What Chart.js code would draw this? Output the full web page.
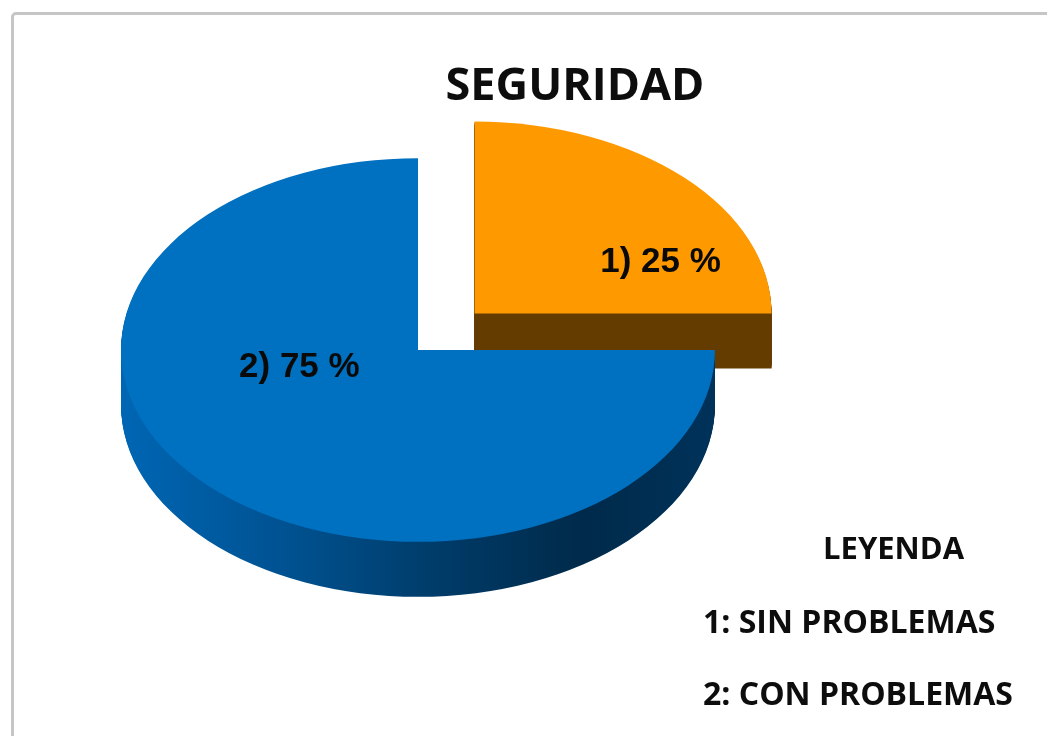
<!DOCTYPE html>
<html><head><meta charset="utf-8">
<script src="https://cdn.jsdelivr.net/npm/chart.js@4.4.1/dist/chart.umd.min.js"></script>
<style>
html,body{margin:0;padding:0;background:#fff;overflow:hidden;}
#wrap{position:relative;width:1047px;height:736px;overflow:hidden;background:#fff;}
#frame{position:absolute;left:11px;top:12px;width:1100px;height:800px;border:3px solid #c6c6c6;border-radius:5px;box-sizing:border-box;}
canvas{position:absolute;left:0;top:0;}
.t{position:absolute;font-family:'Open Sans',sans-serif;font-weight:700;color:#0d0d0d;white-space:nowrap;}
</style></head><body>
<div id="wrap">
<div id="frame"></div>
<canvas id="c" width="1047" height="736"></canvas>
<div class="t" id="title" style="left:575px;top:60px;font-size:45px;line-height:45px;transform:translateX(-50%);"></div>
<div class="t" id="lh" style="left:823px;top:532px;font-size:31px;line-height:31px;"></div>
<div class="t" id="l1" style="left:703px;top:605px;font-size:32px;line-height:32px;"></div>
<div class="t" id="l2" style="left:703px;top:677px;font-size:32px;line-height:32px;"></div>
</div>
<script>
// ---- data ----
const chartTitle = 'SEGURIDAD';
const legendTitle = 'LEYENDA';
const categories = ['SIN PROBLEMAS', 'CON PROBLEMAS'];
const values = [25, 75];
const topColors = ['#ff9900', '#0070c0'];

// ---- style ----
const TILT = 0.646;      // vertical squash of the pie
const DEPTH = 55;        // thickness in px
const EXPLODE = [80, 0]; // explode distance per slice
const SIDE_STOPS = [
  [[0, '#653c00'], [1, '#653c00']],
  [[0, '#0066b4'], [0.3, '#00508e'], [0.55, '#003a66'], [0.78, '#002a4a'], [1, '#00325a']]
];
const LABEL_SHIFT = [22, 32]; // degrees from bisector
const LABEL_R = [0.68, 0.41];

document.getElementById('title').textContent = chartTitle;
document.getElementById('lh').textContent = legendTitle;
document.getElementById('l1').textContent = '1: ' + categories[0];
document.getElementById('l2').textContent = '2: ' + categories[1];

function slicePath(ctx, cx, cy, r, s, e) {
  ctx.beginPath();
  ctx.moveTo(cx, cy);
  ctx.ellipse(cx, cy, r, r * TILT, 0, s, e);
  ctx.closePath();
}
function geom(a, i) {
  const p = a.getProps(['x', 'y', 'startAngle', 'endAngle', 'outerRadius']);
  const m = (p.startAngle + p.endAngle) / 2;
  return {
    p, m,
    cx: p.x + Math.cos(m) * EXPLODE[i],
    cy: p.y + Math.sin(m) * EXPLODE[i] * TILT
  };
}

const pie3d = {
  id: 'pie3d',
  beforeDatasetsDraw(chart) {
    const ctx = chart.ctx;
    const arcs = chart.getDatasetMeta(0).data;
    const order = arcs.map((a, i) => i).sort((i, j) => Math.sin(geom(arcs[i], i).m) - Math.sin(geom(arcs[j], j).m));
    order.forEach(i => {
      const a = arcs[i];
      const g = geom(a, i);
      const r = g.p.outerRadius;
      ctx.save();
      const grad = ctx.createLinearGradient(g.p.x - r, 0, g.p.x + r, 0);
      SIDE_STOPS[i].forEach(s => grad.addColorStop(s[0], s[1]));
      ctx.fillStyle = grad;
      for (let d = DEPTH; d >= 1; d--) {
        slicePath(ctx, g.cx, g.cy + d, r, g.p.startAngle, g.p.endAngle);
        ctx.fill();
      }
      ctx.fillStyle = a.options.backgroundColor;
      slicePath(ctx, g.cx, g.cy, r, g.p.startAngle, g.p.endAngle);
      ctx.fill();
      ctx.restore();
    });
    return false;
  },
  afterDraw(chart) {
    const ctx = chart.ctx;
    const arcs = chart.getDatasetMeta(0).data;
    ctx.save();
    ctx.font = 'bold 35px "Liberation Sans", Arial, sans-serif';
    ctx.fillStyle = '#0a0a0a';
    ctx.textAlign = 'center';
    ctx.textBaseline = 'middle';
    arcs.forEach((a, i) => {
      const g = geom(a, i);
      const r = g.p.outerRadius * LABEL_R[i];
      const ang = g.m + LABEL_SHIFT[i] * Math.PI / 180;
      const x = g.cx + Math.cos(ang) * r;
      const y = g.cy + Math.sin(ang) * r * TILT;
      ctx.fillText((i + 1) + ') ' + values[i] + ' %', x, y);
    });
    ctx.restore();
  }
};

new Chart(document.getElementById('c'), {
  type: 'pie',
  data: {
    labels: categories,
    datasets: [{
      data: values,
      backgroundColor: topColors,
      borderWidth: 0,
      radius: 297
    }]
  },
  options: {
    responsive: false,
    animation: false,
    rotation: 0,
    layout: { padding: { left: 0, right: 211, top: 0, bottom: 36 } },
    plugins: { legend: { display: false }, tooltip: { enabled: false }, title: { display: false } },
    events: []
  },
  plugins: [pie3d]
});
</script>
</body></html>
